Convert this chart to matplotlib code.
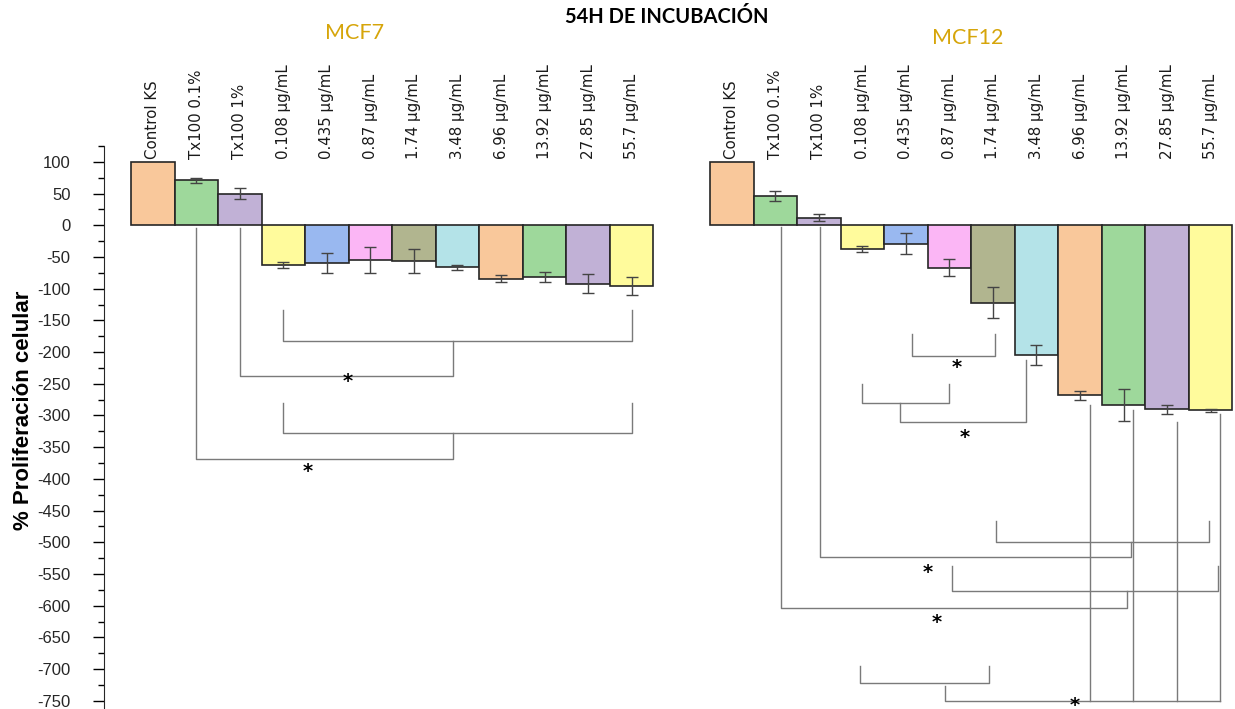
import matplotlib
matplotlib.use("Agg")
import matplotlib.pyplot as plt
from matplotlib.ticker import MultipleLocator

plt.rcParams["axes.unicode_minus"] = False

# categories (same for both cell lines)
categories = ["Control KS", "Tx100 0.1%", "Tx100 1%", "0.108 µg/mL", "0.435 µg/mL",
              "0.87 µg/mL", "1.74 µg/mL", "3.48 µg/mL", "6.96 µg/mL", "13.92 µg/mL",
              "27.85 µg/mL", "55.7 µg/mL"]

mcf7_values = [100, 71, 50, -63, -59, -55, -57, -66, -84, -81, -92, -96]
mcf7_err = [0, 4, 9, 5, 16, 20, 19, 4, 6, 8, 15, 14]

mcf12_values = [100, 46, 12, -37, -29, -67, -122, -205, -268, -283, -290, -292]
mcf12_err = [0, 8, 5, 5, 17, 13, 24, 16, 7, 25, 7, 2]

bar_colors = ["#F9C89B", "#9ED89B", "#C1B1D6", "#FFFB9C", "#99B8F0", "#FBB6F5",
              "#B1B58F", "#B4E3E8", "#F9C89B", "#9ED89B", "#C1B1D6", "#FFFB9C"]

group_offset = 13.3  # MCF12 bars start after a gap

# significance brackets: polylines in (bar position, % value)
brackets = [
    # MCF7
    [(1, -5), (1, -368), (6.9, -368), (6.9, -327)],
    [(2, -5), (2, -237), (6.9, -237), (6.9, -183)],
    [(3, -134), (3, -183), (11, -183), (11, -134)],
    [(3, -281), (3, -327), (11, -327), (11, -281)],
    # MCF12
    [(17.43, -171), (17.43, -207), (19.34, -207), (19.34, -171)],
    [(16.3, -250), (16.3, -280), (18.28, -280), (18.28, -250)],
    [(17.16, -280), (17.16, -311), (20.05, -311), (20.05, -212)],
    [(19.38, -466), (19.38, -499), (24.26, -499), (24.26, -466)],
    [(15.33, -3), (15.33, -524), (22.48, -524), (22.48, -499)],
    [(18.37, -537), (18.37, -577), (24.48, -577), (24.48, -537)],
    [(14.42, -3), (14.42, -604), (22.37, -604), (22.37, -577)],
    [(21.52, -283), (21.52, -750)],
    [(22.52, -291), (22.52, -750)],
    [(23.53, -311), (23.53, -750)],
    [(24.51, -297), (24.51, -750)],
    [(18.19, -727), (18.19, -750), (24.51, -750)],
    [(16.25, -695), (16.25, -722), (19.2, -722), (19.2, -695)],
]
stars = [(4.47, -246), (3.55, -388), (18.47, -224), (18.65, -335),
         (17.8, -548), (18.0, -627), (21.18, -757)]

fig = plt.figure(figsize=(12.35, 7.09), dpi=100)
ax = fig.add_axes([104 / 1235, 0, 1 - 104 / 1235, 563 / 709])

x7 = list(range(len(categories)))
x12 = [group_offset + i for i in x7]

for xs, vals, errs in [(x7, mcf7_values, mcf7_err), (x12, mcf12_values, mcf12_err)]:
    ax.bar(xs, vals, width=1.0, color=bar_colors, edgecolor="#262626", linewidth=1.2, zorder=2)
    ax.errorbar(xs[1:], vals[1:], yerr=errs[1:], fmt="none", ecolor="#444444",
                elinewidth=1.0, capsize=4, capthick=1.0, zorder=3)
    for x, lab in zip(xs, categories):
        ax.text(x, 104, lab, rotation=90, ha="center", va="bottom", fontsize=10.8,
                family="DejaVu Sans", color="#1a1a1a", clip_on=False)

for seg in brackets:
    bx, by = zip(*seg)
    ax.plot(bx, by, color="#7a7a7a", linewidth=1.0, zorder=1, clip_on=False)
for sx, sy in stars:
    ax.text(sx, sy, "*", ha="center", va="center", fontsize=14, fontweight="bold",
            family="DejaVu Sans", clip_on=False)

ax.set_xlim(-1.12, 24.86)
ax.set_ylim(-763, 125)
ax.yaxis.set_major_locator(MultipleLocator(50))
ax.yaxis.set_minor_locator(MultipleLocator(25))
ax.tick_params(axis="y", which="major", length=8, width=1, pad=16,
               labelsize=12, labelcolor="#262626")
ax.tick_params(axis="y", which="minor", length=4, width=1)
for lbl in ax.get_yticklabels():
    lbl.set_family("Liberation Sans")
ax.set_xticks([])
for side in ["top", "right", "bottom"]:
    ax.spines[side].set_visible(False)
ax.spines["left"].set_color("#262626")

fig.text(24 / 1235, 1 - 410 / 709, "% Proliferación celular", rotation=90,
         ha="center", va="center", fontsize=16, fontweight="bold", family="Liberation Sans")

fig.text(667 / 1235, 1 - 17 / 709, "54H DE INCUBACIÓN", ha="center", va="center",
         fontsize=14.5, fontweight="bold", family="Lato")
fig.text(355 / 1235, 1 - 33 / 709, "MCF7", ha="center", va="center",
         fontsize=15.5, color="#D6A50A", family="Lato")
fig.text(968 / 1235, 1 - 38 / 709, "MCF12", ha="center", va="center",
         fontsize=15.5, color="#D6A50A", family="Lato")

fig.savefig("out.png", dpi=100)
